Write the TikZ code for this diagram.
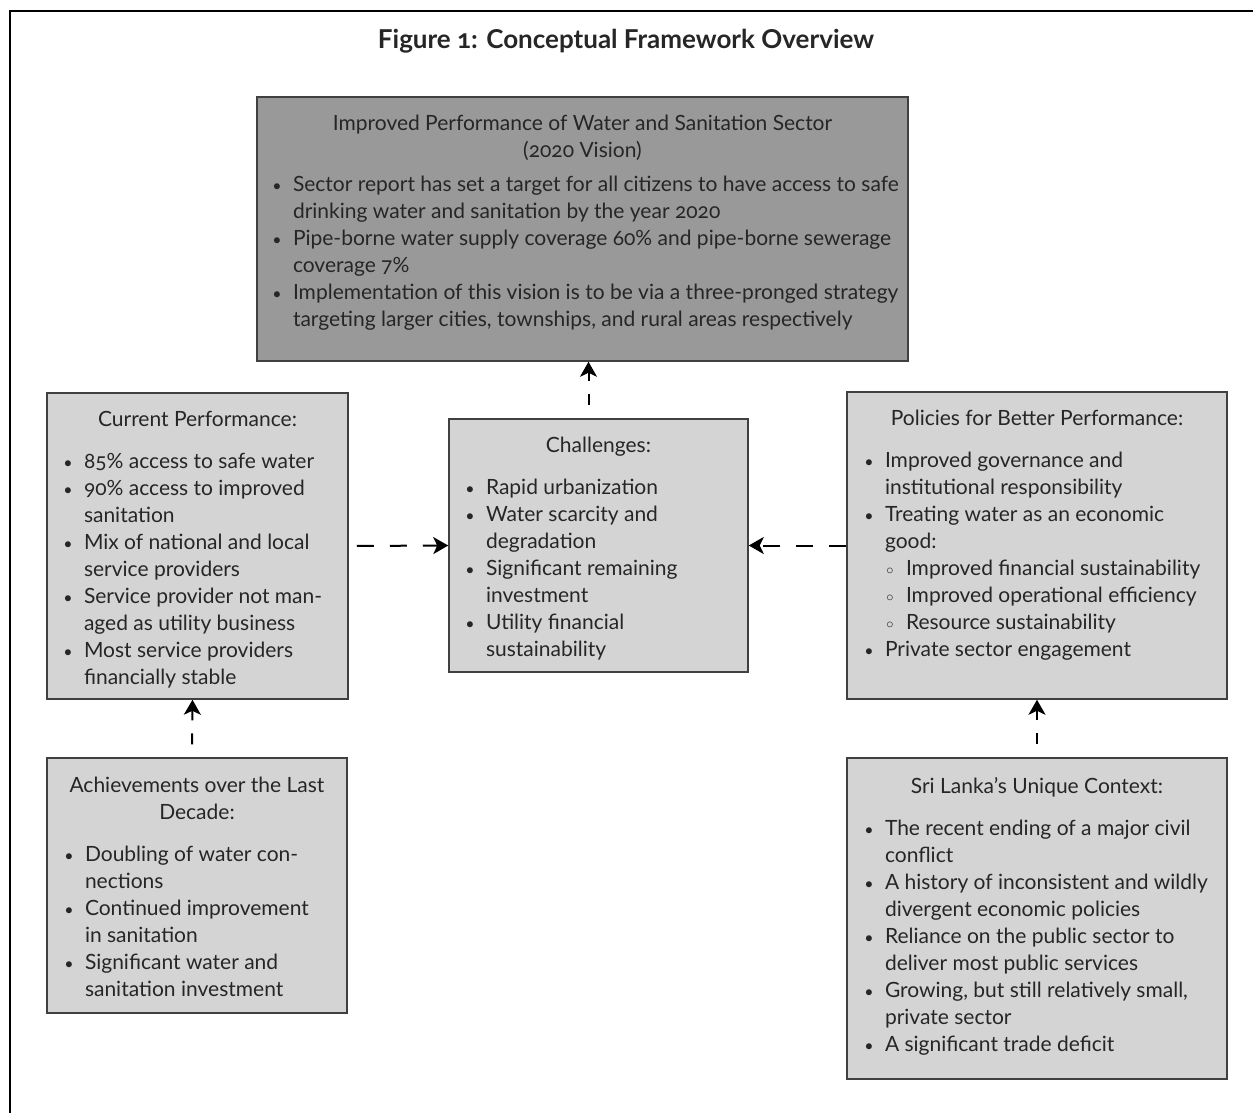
\documentclass[tikz,border=0pt]{standalone}
\usepackage{fontspec}
\setmainfont{Lato}[Numbers=OldStyle]
\usepackage{enumitem}
\usetikzlibrary{arrows.meta,positioning}

\colorlet{panelfill}{black!17}
\colorlet{visionfill}{black!40}
\colorlet{panelline}{black!75}
\colorlet{paneltext}{black!85}
\tikzset{
  panel/.style={rectangle,draw=panelline,line width=1.5pt,fill=panelfill,inner sep=0pt},
  intext/.style={inner sep=0pt,text=paneltext,font=\fontsize{21}{27}\selectfont},
  flow/.style={-{Stealth[length=15pt,width=17pt,inset=4pt]},line width=2pt,dash pattern=on 17pt off 16pt},
}
\newcommand{\dotmark}{\makebox[0pt][c]{\raisebox{0.5pt}{\fontsize{16}{16}\selectfont\textbullet}}}
\newcommand{\ringmark}{\makebox[0pt][c]{\raisebox{1pt}{\fontsize{15}{15}\selectfont$\circ$}}}
\newenvironment{pts}[2][15pt]{\begin{itemize}[leftmargin=#2,labelsep=16pt,label=\dotmark,topsep=#1,itemsep=0pt,parsep=0pt,partopsep=0pt]}{\end{itemize}}
\newenvironment{subpts}{\begin{itemize}[leftmargin=21pt,labelsep=16pt,label=\ringmark,topsep=0pt,itemsep=0pt,parsep=0pt,partopsep=0pt]}{\end{itemize}}

\begin{document}
\begin{tikzpicture}[x=1pt,y=1pt,
      rise/.style={flow,dash pattern=on 11pt off 13pt,dash phase=11pt},
      vision/.style={panel,fill=visionfill},
      ]
      \useasboundingbox (0,0) rectangle (1253,-1112);
      \draw [line width=2pt] (10,-11) rectangle (1280,-1140);
      \node [text=paneltext,font=\fontsize{26}{30}\selectfont\bfseries,anchor=base] (title) at (626,-48) {Figure 1: Conceptual Framework Overview};

      \node [vision,minimum width=651pt,minimum height=264pt] (vis) at (582.5,-229) {};
      \node [panel,minimum width=301pt,minimum height=306pt] (cur) at (197.5,-546) {};
      \node [panel,minimum width=299pt,minimum height=253pt] (chal) at (598.5,-545.5) {};
      \node [panel,minimum width=380pt,minimum height=307pt] (pol) at (1037,-545.5) {};
      \node [panel,minimum width=300pt,minimum height=255pt] (ach) at (197,-885.5) {};
      \node [panel,minimum width=380pt,minimum height=321pt] (ctx) at (1037,-918.5) {};

      \node [intext,below=19pt of vis.north] (vistxt) {\begin{minipage}{643pt}
        {\centering Improved Performance of Water and Sanitation Sector\\ (2020 Vision)\par}
        \begin{pts}[7pt]{32pt}
          \item Sector report has set a target for all citizens to have access to safe\\ drinking water and sanitation by the year 2020
          \item Pipe-borne water supply coverage 60\% and pipe-borne sewerage\\ coverage 7\%
          \item Implementation of this vision is to be via a three-pronged strategy\\ targeting larger cities, townships, and rural areas respectively
        \end{pts}
      \end{minipage}};
      \node [intext,below=19pt of cur.north] (curtxt) {\begin{minipage}{281pt}
        {\centering Current Performance:\par}
        \begin{pts}{27pt}
          \item 85\% access to safe water
          \item 90\% access to improved\\ sanitation
          \item Mix of national and local\\ service providers
          \item Service provider not man-\\aged as utility business
          \item Most service providers\\ financially stable
        \end{pts}
      \end{minipage}};
      \node [intext,below=19pt of chal.north] (chaltxt) {\begin{minipage}{279pt}
        {\centering Challenges:\par}
        \begin{pts}{27pt}
          \item Rapid urbanization
          \item Water scarcity and\\ degradation
          \item Significant remaining\\ investment
          \item Utility financial\\ sustainability
        \end{pts}
      \end{minipage}};
      \node [intext,below=19pt of pol.north] (poltxt) {\begin{minipage}{360pt}
        {\centering Policies for Better Performance:\par}
        \begin{pts}{28pt}
          \item Improved governance and\\ institutional responsibility
          \item Treating water as an economic\\ good:
          \begin{subpts}
            \item Improved financial sustainability
            \item Improved operational efficiency
            \item Resource sustainability
          \end{subpts}
          \item Private sector engagement
        \end{pts}
      \end{minipage}};
      \node [intext,below=20pt of ach.north] (achtxt) {\begin{minipage}{280pt}
        {\centering Achievements over the Last\\ Decade:\par}
        \begin{pts}{28pt}
          \item Doubling of water con-\\nections
          \item Continued improvement\\ in sanitation
          \item Significant water and\\ sanitation investment
        \end{pts}
      \end{minipage}};
      \node [intext,below=20pt of ctx.north] (ctxtxt) {\begin{minipage}{360pt}
        {\centering Sri Lanka’s Unique Context:\par}
        \begin{pts}{28pt}
          \item The recent ending of a major civil\\ conflict
          \item A history of inconsistent and wildly\\ divergent economic policies
          \item Reliance on the public sector to\\ deliver most public services
          \item Growing, but still relatively small,\\ private sector
          \item A significant trade deficit
        \end{pts}
      \end{minipage}};

      \draw [flow,dash phase=25pt] (cur.east) -- (chal.west);
      \draw [flow] (pol.west) -- (chal.east);
      \draw [rise] ([xshift=-10pt]chal.north) -- ([xshift=-10pt]chal.north |- vis.south);
      \draw [rise] ([xshift=-5pt]ach.north) -- ([xshift=-5pt]cur.south);
      \draw [rise] (ctx.north) -- (pol.south);
    \end{tikzpicture}
\end{document}
